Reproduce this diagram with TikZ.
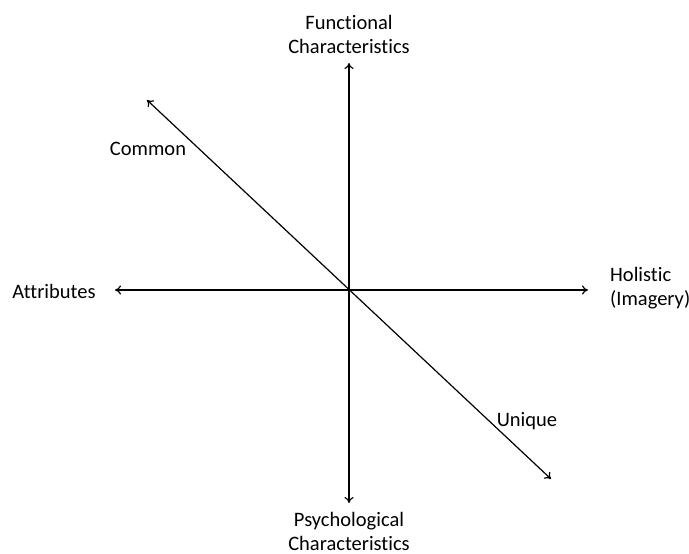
\documentclass[tikz,border=0pt]{standalone}
\usepackage{fontspec}
\setmainfont{Carlito}[RawFeature={-liga,-clig,-dlig}]
\usetikzlibrary{arrows.meta}
\begin{document}
\begin{tikzpicture}[x=1pt,y=-1pt,
  axis/.style={line width=1.2pt,{To[length=6pt,width=9pt]}-{To[length=6pt,width=9pt]}},
  lbl/.style={font=\fontsize{20.5}{24}\selectfont,inner sep=0pt,align=center}]
\useasboundingbox (0,0) rectangle (689,554);
% axis end points
\coordinate (top) at (349,63);
\coordinate (bottom) at (349,503);
\coordinate (left) at (115,290);
\coordinate (right) at (588,290);
\coordinate (ul) at (147,100);
\coordinate (lr) at (551,479);
% axes
\draw[axis] (top) -- (bottom);
\draw[axis] (left) -- (right);
\draw[axis] (ul) -- (lr);
% labels
\node[lbl] (fun) at (349,34) {Functional\\Characteristics};
\node[lbl] (psy) at (349,531) {Psychological\\Characteristics};
\node[lbl] (att) at (54,291) {Attributes};
\node[lbl,align=left,anchor=west] (hol) at (610,288) {Holistic\\(Imagery)};
\node[lbl] (com) at (148,149) {Common};
\node[lbl] (uni) at (527,421) {Unique};
\end{tikzpicture}
\end{document}
